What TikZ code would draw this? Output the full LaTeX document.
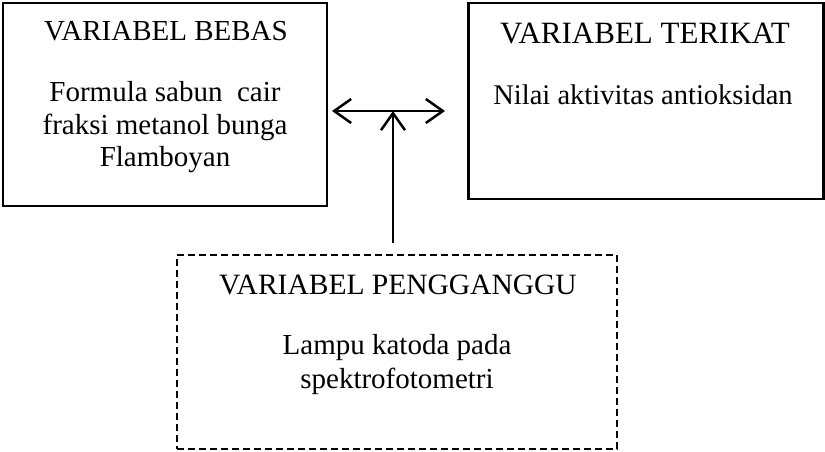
\documentclass[tikz,border=0pt]{standalone}
\usepackage{fontspec}
\setmainfont{Liberation Serif}
\usetikzlibrary{arrows.meta}
\begin{document}
\begin{tikzpicture}[x=1pt,y=-1pt,
  box/.style={draw,line width=2.4pt,inner sep=0pt},
  dbox/.style={box,dash pattern=on 7pt off 4pt},
  txt/.style={anchor=base,inner sep=0pt,font=\fontsize{29}{33}\selectfont},
  bigtxt/.style={txt,font=\fontsize{31}{35}\selectfont},
  medtxt/.style={txt,font=\fontsize{28.5}{33}\selectfont},
  ptxt/.style={txt,font=\fontsize{29.5}{33}\selectfont},
  conn/.style={line width=2.5pt,-{Straight Barb[length=17pt,width=24pt,line width=2.5pt]}},
  dconn/.style={line width=2.5pt,{Straight Barb[length=17pt,width=24pt,line width=2.5pt]}-{Straight Barb[length=17pt,width=24pt,line width=2.5pt]}}]
\useasboundingbox (0,0) rectangle (825,452);
% boxes
\node[box,minimum width=324pt,minimum height=203pt] (L) at (165,104.5) {};
\node[box,minimum width=355pt,minimum height=196pt] (R) at (646,101) {};
\node[dbox,minimum width=440pt,minimum height=194pt] (P) at (397,352) {};
% texts
\node[txt] (Lt) at (166,41) {VARIABEL BEBAS};
\node[txt] (L1) at (165,101) {Formula sabun\ \ cair};
\node[txt] (L2) at (165,134) {fraksi metanol bunga};
\node[txt] (L3) at (165,166) {Flamboyan};
\node[bigtxt] (Rt) at (645,44) {VARIABEL TERIKAT};
\node[medtxt] (R1) at (643,104) {Nilai aktivitas antioksidan};
\node[ptxt] (Pt) at (398,294) {VARIABEL PENGGANGGU};
\node[txt] (P1) at (397,354) {Lampu katoda pada};
\node[txt] (P2) at (397,388) {spektrofotometri};
% connectors
\coordinate (jl) at (332,111);
\coordinate (jr) at (445,111);
\coordinate (jm) at (393,111);
\coordinate (ps) at (393,243);
\draw[dconn] (jl) -- (jr);
\draw[conn] (ps) -- (jm);
\end{tikzpicture}
\end{document}
